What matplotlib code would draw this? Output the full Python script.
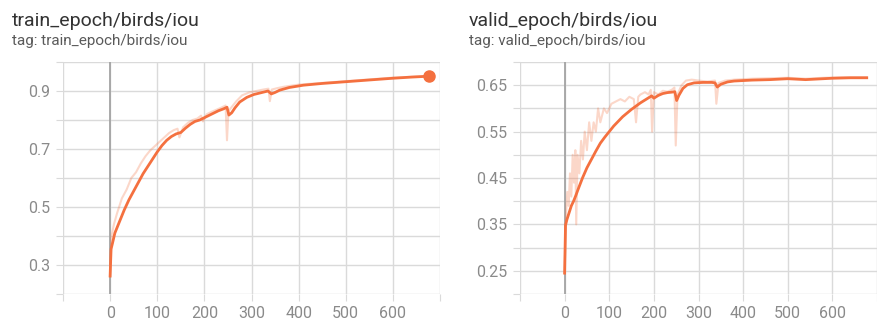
import matplotlib
matplotlib.use("Agg")
import matplotlib.pyplot as plt
import numpy as np

# smoothed curves (epoch, value)
train_epochs = [0, 2, 5, 10, 20, 30, 40, 50, 60, 70, 80, 90, 100, 110, 120, 130, 140, 150, 160,
                170, 180, 190, 200, 210, 220, 230, 240, 248, 252, 258, 265, 275, 290, 305, 320,
                335, 342, 350, 360, 380, 410, 450, 500, 550, 600, 640, 677]
train_smooth = [0.262, 0.355, 0.375, 0.41, 0.45, 0.49, 0.525, 0.555, 0.585, 0.615, 0.64, 0.665,
                0.69, 0.712, 0.73, 0.743, 0.752, 0.757, 0.772, 0.785, 0.795, 0.80, 0.808, 0.816,
                0.824, 0.832, 0.838, 0.844, 0.817, 0.825, 0.842, 0.862, 0.878, 0.888, 0.894, 0.9,
                0.89, 0.895, 0.903, 0.912, 0.92, 0.926, 0.932, 0.938, 0.944, 0.948, 0.951]

# raw values, only the visible features
train_raw_epochs = [0, 3, 8, 15, 25, 35, 45, 55, 65, 75, 85, 95, 105, 115, 125, 135, 143, 147,
                    155, 165, 175, 185, 193, 197, 205, 215, 225, 235, 245, 248, 251, 258, 268,
                    280, 295, 310, 325, 336, 339, 343, 355, 370, 400, 450, 500, 550, 600, 640, 677]
train_raw = [0.26, 0.40, 0.44, 0.48, 0.53, 0.56, 0.60, 0.62, 0.65, 0.675, 0.695, 0.71, 0.725, 0.74,
             0.755, 0.765, 0.77, 0.74, 0.775, 0.79, 0.80, 0.805, 0.815, 0.795, 0.82, 0.828, 0.835,
             0.842, 0.85, 0.73, 0.83, 0.845, 0.865, 0.885, 0.895, 0.90, 0.905, 0.908, 0.865,
             0.905, 0.91, 0.915, 0.922, 0.928, 0.934, 0.94, 0.946, 0.949, 0.952]

valid_epochs = [0, 2, 5, 10, 15, 20, 25, 30, 40, 50, 60, 70, 80, 90, 100, 110, 120, 130, 140, 150,
                160, 170, 180, 190, 195, 200, 210, 220, 230, 240, 247, 251, 256, 265, 275, 290,
                310, 330, 337, 342, 350, 365, 380, 420, 460, 500, 540, 560, 600, 640, 677]
valid_smooth = [0.245, 0.348, 0.36, 0.375, 0.39, 0.40, 0.412, 0.425, 0.45, 0.472, 0.49, 0.508,
                0.525, 0.538, 0.55, 0.562, 0.572, 0.582, 0.59, 0.598, 0.605, 0.612, 0.618,
                0.624, 0.627, 0.622, 0.628, 0.632, 0.634, 0.635, 0.636, 0.617, 0.628, 0.643,
                0.651, 0.655, 0.656, 0.656, 0.655, 0.646, 0.652, 0.657, 0.659, 0.661, 0.662,
                0.664, 0.662, 0.663, 0.665, 0.666, 0.666]

valid_raw_epochs = [0, 3, 6, 9, 12, 15, 18, 21, 24, 26, 29, 33, 37, 41, 45, 50, 55, 60, 65, 70,
                    75, 80, 88, 95, 105, 115, 125, 135, 145, 155, 160, 165, 170, 180, 188, 193,
                    196, 200, 210, 220, 230, 240, 246, 249, 253, 262, 272, 285, 300, 320, 337,
                    340, 345, 360, 380, 420, 460, 500, 540, 580, 620, 677]
valid_raw = [0.245, 0.37, 0.42, 0.39, 0.46, 0.41, 0.50, 0.44, 0.51, 0.35, 0.50, 0.46, 0.53, 0.49,
             0.55, 0.51, 0.57, 0.53, 0.57, 0.55, 0.60, 0.57, 0.60, 0.59, 0.61, 0.615, 0.62,
             0.615, 0.625, 0.62, 0.57, 0.625, 0.63, 0.635, 0.63, 0.64, 0.55, 0.635, 0.63, 0.638,
             0.636, 0.64, 0.645, 0.52, 0.63, 0.65, 0.66, 0.662, 0.66, 0.658, 0.66, 0.61, 0.655,
             0.66, 0.662, 0.664, 0.665, 0.666, 0.664, 0.666, 0.667, 0.667]

ORANGE = "#f4703f"
GRID = "#dadada"
TICK = "#8a8a8a"

plt.rcParams["font.family"] = ["Roboto", "DejaVu Sans"]

W, H = 877, 320
fig = plt.figure(figsize=(W / 100, H / 100), dpi=100)


def panel(x0, x1, name, xs, ys, rx, ry, ylim, ystep, labels, dot):
    ax = fig.add_axes([x0 / W, 1 - 294 / H, (x1 - x0) / W, (294 - 62) / H])
    ax.plot(rx, ry, color=ORANGE, lw=1.5, alpha=0.28, zorder=3)
    ax.plot(xs, ys, color=ORANGE, lw=2.0, zorder=4, solid_joinstyle="round")
    if dot:
        ax.plot(xs[-1], ys[-1], "o", color=ORANGE, ms=8, zorder=5)
    ax.set_xlim(-100, 700 if dot else 680)
    ax.set_ylim(*ylim)
    ax.set_xticks(np.arange(-100, 701, 100))
    ax.set_xticklabels([""] + [str(v) for v in range(0, 701, 100)][:-1] + [""])
    yt = np.round(np.arange(ylim[0], ylim[1] + 1e-9, ystep), 3)
    ax.set_yticks(yt)
    ax.set_yticklabels([f"{v:g}" if any(abs(v - l) < 1e-6 for l in labels) else "" for v in yt])
    ax.grid(True, color=GRID, lw=1)
    ax.axvline(0, color="#9e9e9e", lw=1.2, zorder=2)
    for s in ax.spines.values():
        s.set_visible(False)
    ax.tick_params(length=5, color=GRID, labelcolor=TICK, labelsize=11.5, pad=4)
    ax.set_axisbelow(True)
    fig.text((x0 - 51) / W, 1 - 26 / H, name, fontsize=14, color="#333333")
    fig.text((x0 - 51) / W, 1 - 45 / H, "tag: " + name, fontsize=11, color="#5a5a5a")
    return ax


panel(63, 440, "train_epoch/birds/iou", train_epochs, train_smooth,
      train_raw_epochs, train_raw, (0.2, 1.0), 0.1, [0.3, 0.5, 0.7, 0.9], True)
panel(520, 877, "valid_epoch/birds/iou", valid_epochs, valid_smooth,
      valid_raw_epochs, valid_raw, (0.2, 0.7), 0.05, [0.25, 0.35, 0.45, 0.55, 0.65], False)

fig.savefig("out.png", dpi=100)
